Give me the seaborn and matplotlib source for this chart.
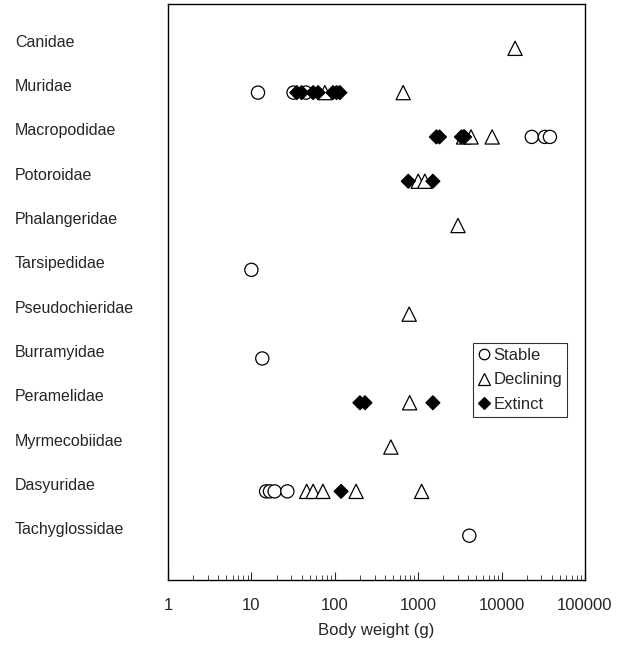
import numpy as np
import pandas as pd
import seaborn as sns
import matplotlib.pyplot as plt
import matplotlib.transforms as mtransforms
from matplotlib.ticker import LogLocator, FixedLocator, NullFormatter

# families, top row first
families = ['Canidae', 'Muridae', 'Macropodidae', 'Potoroidae', 'Phalangeridae',
            'Tarsipedidae', 'Pseudochieridae', 'Burramyidae', 'Peramelidae',
            'Myrmecobiidae', 'Dasyuridae', 'Tachyglossidae']

stable_family = ['Muridae', 'Muridae', 'Muridae',
                 'Macropodidae', 'Macropodidae', 'Macropodidae',
                 'Tarsipedidae', 'Burramyidae',
                 'Dasyuridae', 'Dasyuridae', 'Dasyuridae', 'Dasyuridae',
                 'Tachyglossidae']
stable_weight = [12, 32, 45,
                 23000, 33000, 38000,
                 10, 13.5,
                 15, 16.7, 19, 27,
                 4100]

declining_family = ['Canidae', 'Muridae', 'Muridae',
                    'Macropodidae', 'Macropodidae', 'Macropodidae',
                    'Potoroidae', 'Potoroidae', 'Phalangeridae',
                    'Pseudochieridae', 'Peramelidae', 'Myrmecobiidae',
                    'Dasyuridae', 'Dasyuridae', 'Dasyuridae', 'Dasyuridae', 'Dasyuridae']
declining_weight = [14500, 76, 660,
                    3500, 4300, 7700,
                    1000, 1200, 3000,
                    780, 790, 470,
                    46, 55, 72, 180, 1100]

extinct_family = ['Muridae'] * 7 + ['Macropodidae'] * 4 + ['Potoroidae'] * 2 + \
                 ['Peramelidae'] * 3 + ['Dasyuridae']
extinct_weight = [35, 40, 55, 63, 95, 105, 115,
                  1650, 1800, 3300, 3600,
                  760, 1500,
                  200, 230, 1500,
                  119]

status_order = ['Stable', 'Declining', 'Extinct']

df = pd.DataFrame({
    'family': stable_family + declining_family + extinct_family,
    'weight': stable_weight + declining_weight + extinct_weight,
    'status': ['Stable'] * len(stable_family) + ['Declining'] * len(declining_family)
              + ['Extinct'] * len(extinct_family),
})
row_of = {f: len(families) - i for i, f in enumerate(families)}
df['row'] = df['family'].map(row_of)

sns.set_style('white')
plt.rcParams['font.family'] = ['Liberation Sans', 'DejaVu Sans']

fig = plt.figure(figsize=(6.25, 6.45), dpi=100)
ax = fig.add_axes([0.2688, 0.1008, 0.6672, 0.893])

sns.scatterplot(data=df, x='weight', y='row', hue='status', style='status', size='status',
                hue_order=status_order, style_order=status_order, size_order=status_order,
                palette={'Stable': 'white', 'Declining': 'white', 'Extinct': 'black'},
                markers={'Stable': 'o', 'Declining': '^', 'Extinct': 'D'},
                sizes={'Stable': 90, 'Declining': 105, 'Extinct': 50},
                edgecolor='black', linewidth=0.9, ax=ax, legend='full')

ax.set_xscale('log')
ax.set_xlim(1, 100000)
ax.set_ylim(0, 13)
ax.xaxis.set_major_locator(FixedLocator([1, 10, 100, 1000, 10000, 100000]))
ax.set_xticklabels(['1', '10', '100', '1000', '10000', '100000'])
ax.xaxis.set_minor_locator(LogLocator(base=10, subs=np.arange(2, 10)))
ax.xaxis.set_minor_formatter(NullFormatter())
ax.tick_params(axis='x', which='major', direction='in', length=6, width=0.8,
               pad=13, labelsize=12, bottom=True)
ax.tick_params(axis='x', which='minor', direction='in', length=3.5, width=0.6, bottom=True)
ax.set_yticks([])
ax.set_ylabel('')
ax.set_xlabel('Body weight (g)', fontsize=12, labelpad=7)

for sp in ax.spines.values():
    sp.set_visible(True)
    sp.set_color('black')
    sp.set_linewidth(1.0)

# family names, left aligned at the figure edge
lab_tr = mtransforms.offset_copy(ax.get_yaxis_transform(), fig=fig, x=0, y=6, units='dots')
for fam in families:
    ax.text(-0.367, row_of[fam], fam, transform=lab_tr, ha='left', va='center',
            fontsize=11.5, clip_on=False)

handles, labels = ax.get_legend_handles_labels()
keep = [(h, l) for h, l in zip(handles, labels) if l in status_order]
leg = ax.legend([h for h, l in keep], [l for h, l in keep], loc='upper left',
                bbox_to_anchor=(0.731, 0.411), frameon=True, fancybox=False,
                edgecolor='black', fontsize=12, markerscale=0.8,
                handlelength=0.7, handletextpad=0.25, borderpad=0.3,
                labelspacing=0.55, borderaxespad=0)
leg.get_frame().set_linewidth(0.8)

fig.savefig('out.png', dpi=100)
